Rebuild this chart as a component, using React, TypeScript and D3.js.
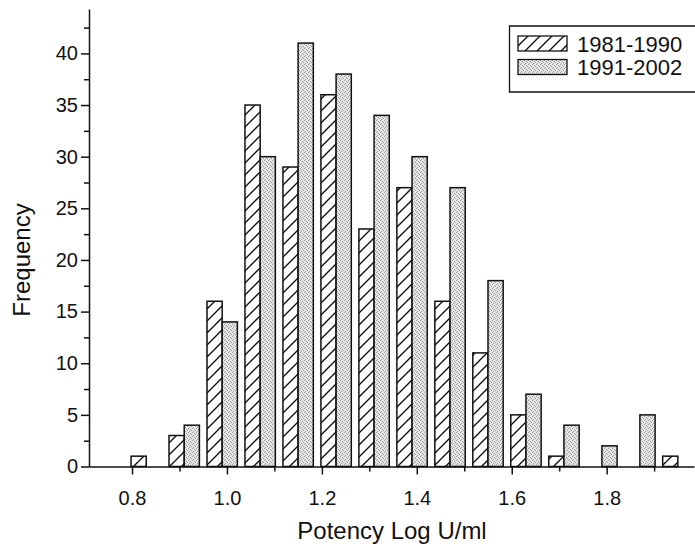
import React, { useEffect, useRef } from 'react';
import * as d3 from 'd3';

const binCenters = [0.83, 0.91, 0.99, 1.07, 1.15, 1.23, 1.31, 1.39, 1.47, 1.55, 1.63, 1.71, 1.79, 1.87, 1.95];
const series1981 = [1, 3, 16, 35, 29, 36, 23, 27, 16, 11, 5, 1, 0, 0, 1];
const series1991 = [0, 4, 14, 30, 41, 38, 34, 30, 27, 18, 7, 4, 2, 5, 0];
const seriesNames = ['1981-1990', '1991-2002'];
const xTicks = [0.8, 1.0, 1.2, 1.4, 1.6, 1.8];
const xMinorTicks = [0.9, 1.1, 1.3, 1.5, 1.7, 1.9];
const yTicks = [0, 5, 10, 15, 20, 25, 30, 35, 40];

const W = 695;
const H = 551;
const FONT = '"Liberation Sans", Arial, sans-serif';

function App() {
    const svgRef = useRef<SVGSVGElement>(null);

    useEffect(() => {
        const svg = d3.select(svgRef.current);
        svg.selectAll('*').remove();

        const x = d3.scaleLinear().domain([0.7094, 1.984]).range([89, 694]);
        const y = d3.scaleLinear().domain([0, 44.3]).range([466.5, 9]);
        const binWidth = 0.08;
        const barW = x(0.8 + binWidth * 0.4) - x(0.8);

        // fill patterns: diagonal hatch and grey stipple
        const defs = svg.append('defs');
        const hatch = defs.append('pattern')
            .attr('id', 'hatch')
            .attr('patternUnits', 'userSpaceOnUse')
            .attr('width', 12)
            .attr('height', 12);
        hatch.append('rect').attr('width', 12).attr('height', 12).attr('fill', '#fff');
        hatch.append('path')
            .attr('d', 'M-3,3 L3,-3 M0,12 L12,0 M9,15 L15,9')
            .attr('stroke', '#111')
            .attr('stroke-width', 1.4);

        const dots = defs.append('pattern')
            .attr('id', 'dots')
            .attr('patternUnits', 'userSpaceOnUse')
            .attr('width', 4)
            .attr('height', 4);
        dots.append('rect').attr('width', 4).attr('height', 4).attr('fill', '#e4e4e4');
        [[0, 0], [2, 1], [1, 3], [3, 2]].forEach(([px, py]) => {
            dots.append('rect')
                .attr('x', px).attr('y', py)
                .attr('width', 1).attr('height', 1)
                .attr('fill', '#a2a2a2');
        });

        // bars
        const rows = binCenters.map((c, i) => ({ c, a: series1981[i], b: series1991[i] }));
        const bars = svg.append('g');
        bars.selectAll('rect.s1')
            .data(rows.filter(d => d.a > 0))
            .enter()
            .append('rect')
            .attr('class', 's1')
            .attr('x', d => x(d.c) - barW)
            .attr('y', d => y(d.a))
            .attr('width', barW)
            .attr('height', d => y(0) - y(d.a))
            .attr('fill', 'url(#hatch)')
            .attr('stroke', '#111')
            .attr('stroke-width', 1.5);

        bars.selectAll('rect.s2')
            .data(rows.filter(d => d.b > 0))
            .enter()
            .append('rect')
            .attr('class', 's2')
            .attr('x', d => x(d.c))
            .attr('y', d => y(d.b))
            .attr('width', barW)
            .attr('height', d => y(0) - y(d.b))
            .attr('fill', 'url(#dots)')
            .attr('stroke', '#111')
            .attr('stroke-width', 1.5);

        // x axis
        const xAxis = svg.append('g')
            .attr('transform', `translate(0, ${y(0)})`)
            .call(d3.axisBottom(x).tickValues(xTicks).tickSize(8).tickSizeOuter(0).tickFormat(d3.format('.1f')));
        xAxis.select('.domain').attr('stroke', '#111').attr('stroke-width', 1.5);
        xAxis.selectAll('.tick line').attr('stroke', '#111').attr('stroke-width', 1.5);
        xAxis.selectAll('.tick text')
            .attr('font-family', FONT)
            .attr('font-size', 20)
            .attr('fill', '#111')
            .attr('y', 0)
            .attr('dy', '38px');
        svg.append('g')
            .attr('transform', `translate(0, ${y(0)})`)
            .call(d3.axisBottom(x).tickValues(xMinorTicks).tickSize(5).tickSizeOuter(0).tickFormat(() => ''))
            .call(g => g.select('.domain').remove())
            .selectAll('.tick line').attr('stroke', '#111').attr('stroke-width', 1.5);

        // y axis
        const yAxis = svg.append('g')
            .attr('transform', `translate(${x.range()[0]}, 0)`)
            .call(d3.axisLeft(y).tickValues(yTicks).tickSize(8).tickSizeOuter(0));
        yAxis.select('.domain').attr('stroke', '#111').attr('stroke-width', 1.5);
        yAxis.selectAll('.tick line').attr('stroke', '#111').attr('stroke-width', 1.5);
        yAxis.selectAll('.tick text')
            .attr('font-family', FONT)
            .attr('font-size', 20)
            .attr('fill', '#111')
            .attr('x', -11);
        svg.append('g')
            .attr('transform', `translate(${x.range()[0]}, 0)`)
            .call(d3.axisLeft(y).tickValues(d3.range(2.5, 44, 5)).tickSize(5).tickSizeOuter(0).tickFormat(() => ''))
            .call(g => g.select('.domain').remove())
            .selectAll('.tick line').attr('stroke', '#111').attr('stroke-width', 1.5);

        // axis titles
        svg.append('text')
            .attr('x', 392)
            .attr('y', 539)
            .attr('text-anchor', 'middle')
            .attr('font-family', FONT)
            .attr('font-size', 24)
            .attr('fill', '#111')
            .text('Potency Log U/ml');
        svg.append('text')
            .attr('transform', 'translate(30, 260) rotate(-90)')
            .attr('text-anchor', 'middle')
            .attr('font-family', FONT)
            .attr('font-size', 24)
            .attr('fill', '#111')
            .text('Frequency');

        // legend (box runs off the right edge)
        const legend = svg.append('g');
        legend.append('path')
            .attr('d', `M${W + 2},26 H509.5 V92 H${W + 2}`)
            .attr('fill', '#fff')
            .attr('stroke', '#111')
            .attr('stroke-width', 1.3);
        const fills = ['url(#hatch)', 'url(#dots)'];
        seriesNames.forEach((name, i) => {
            const top = 36 + i * 23.5;
            legend.append('rect')
                .attr('x', 518)
                .attr('y', top)
                .attr('width', 49)
                .attr('height', 15)
                .attr('fill', fills[i])
                .attr('stroke', '#111')
                .attr('stroke-width', 1.3);
            legend.append('text')
                .attr('x', 577)
                .attr('y', top + 15.5)
                .attr('font-family', FONT)
                .attr('font-size', 22)
                .attr('fill', '#111')
                .text(name);
        });
    }, []);

    return (
        <svg
            ref={svgRef}
            width={W}
            height={H}
            style={{ position: 'absolute', left: 0, top: 0, background: '#fff' }}
        />
    );
}

export default App;
